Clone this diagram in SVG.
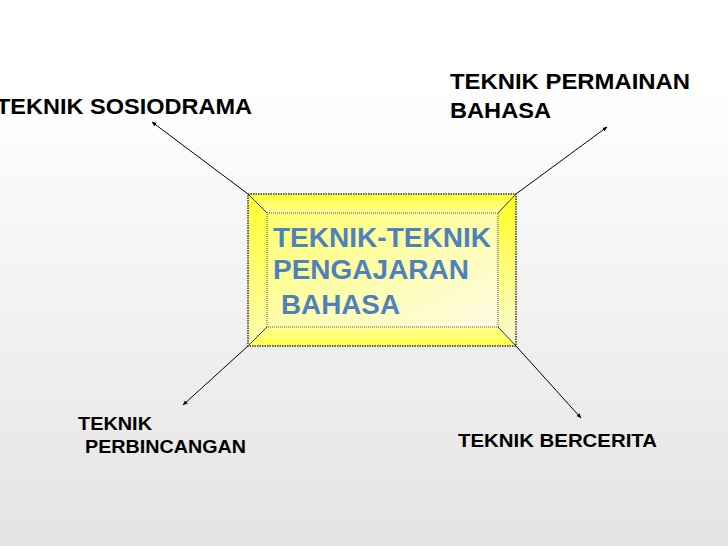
<svg xmlns="http://www.w3.org/2000/svg" width="728" height="546" viewBox="0 0 728 546">
<defs>
<linearGradient id="bg" x1="0" y1="0" x2="0" y2="1">
<stop offset="0" stop-color="#ffffff"/>
<stop offset="0.15" stop-color="#ffffff"/>
<stop offset="1" stop-color="#e4e4e4"/>
</linearGradient>
<linearGradient id="face" x1="0" y1="0" x2="1" y2="1">
<stop offset="0" stop-color="#ffff70"/>
<stop offset="1" stop-color="#fdfbe6"/>
</linearGradient>
<linearGradient id="bevT" x1="0" y1="0" x2="0" y2="1">
<stop offset="0" stop-color="#ffff33"/>
<stop offset="1" stop-color="#ffff99"/>
</linearGradient>
<linearGradient id="bevL" x1="0" y1="0" x2="0" y2="1">
<stop offset="0" stop-color="#ffff30"/>
<stop offset="1" stop-color="#fdfbb0"/>
</linearGradient>
<linearGradient id="bevR" x1="0" y1="0" x2="0" y2="1">
<stop offset="0" stop-color="#ffff20"/>
<stop offset="1" stop-color="#fbf9d8"/>
</linearGradient>
<linearGradient id="bevB" x1="0" y1="0" x2="0" y2="1">
<stop offset="0" stop-color="#ffff90"/>
<stop offset="1" stop-color="#ffff50"/>
</linearGradient>
<marker id="arr" viewBox="0 0 10 10" refX="9" refY="5" markerWidth="5" markerHeight="5" orient="auto" markerUnits="userSpaceOnUse">
<path d="M0,1 L10,5 L0,9 Z" fill="#000"/>
</marker>
</defs>
<style>
.lbl{font-family:"Liberation Sans",Arial,sans-serif;font-weight:bold;fill:#000;}
.big{font-size:22px;}
.sm{font-size:18.5px;}
.ctr{font-family:"Liberation Sans",Arial,sans-serif;font-weight:bold;fill:#4F81BD;font-size:27.5px;}
.conn{stroke:#000;stroke-width:1;fill:none;marker-end:url(#arr);}
.bevel{stroke:#333;stroke-width:1;}
</style>
<rect x="0" y="0" width="728" height="546" fill="url(#bg)"/>

<g id="connectors">
<line class="conn" x1="248" y1="194" x2="152" y2="122"/>
<line class="conn" x1="516" y1="194" x2="607" y2="127"/>
<line class="conn" x1="248" y1="346" x2="183" y2="405"/>
<line class="conn" x1="516" y1="346" x2="581" y2="418"/>
</g>

<g id="center">
<polygon points="248,194 516,194 498,213 267,213" fill="url(#bevT)"/>
<polygon points="248,194 267,213 267,327 248,346" fill="url(#bevL)"/>
<polygon points="516,194 516,346 498,327 498,213" fill="url(#bevR)"/>
<polygon points="248,346 267,327 498,327 516,346" fill="url(#bevB)"/>
<rect x="267" y="213" width="231" height="114" fill="url(#face)" stroke="#555" stroke-width="1" stroke-dasharray="1,1"/>
<line class="bevel" x1="248" y1="194" x2="267" y2="213"/>
<line class="bevel" x1="516" y1="194" x2="498" y2="213"/>
<line class="bevel" x1="248" y1="346" x2="267" y2="327"/>
<line class="bevel" x1="516" y1="346" x2="498" y2="327"/>
<rect x="248" y="194" width="268" height="152" fill="none" stroke="#333" stroke-width="1.5" stroke-dasharray="1.5,1"/>
<text class="ctr" x="273" y="247" textLength="218" lengthAdjust="spacingAndGlyphs">TEKNIK-TEKNIK</text>
<text class="ctr" x="273" y="279" textLength="196" lengthAdjust="spacingAndGlyphs">PENGAJARAN</text>
<text class="ctr" x="281" y="314" textLength="119" lengthAdjust="spacingAndGlyphs">BAHASA</text>
</g>

<g id="sosiodrama">
<text class="lbl big" x="-4" y="114" textLength="256" lengthAdjust="spacingAndGlyphs">TEKNIK SOSIODRAMA</text>
</g>
<g id="permainan">
<text class="lbl big" x="450" y="89" textLength="240" lengthAdjust="spacingAndGlyphs">TEKNIK PERMAINAN</text>
<text class="lbl big" x="450" y="118" textLength="101" lengthAdjust="spacingAndGlyphs">BAHASA</text>
</g>
<g id="perbincangan">
<text class="lbl sm" x="78" y="430" textLength="74" lengthAdjust="spacingAndGlyphs">TEKNIK</text>
<text class="lbl sm" x="85" y="453" textLength="161" lengthAdjust="spacingAndGlyphs">PERBINCANGAN</text>
</g>
<g id="bercerita">
<text class="lbl sm" x="458" y="447" textLength="199" lengthAdjust="spacingAndGlyphs">TEKNIK BERCERITA</text>
</g>
</svg>
